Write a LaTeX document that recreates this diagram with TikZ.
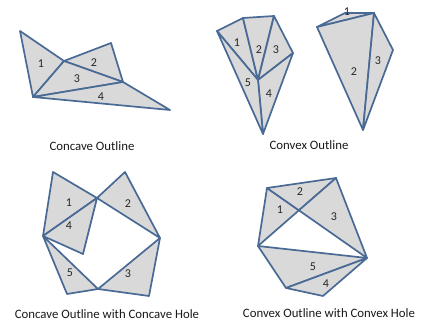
\documentclass[tikz,border=0pt]{standalone}
\usepackage{fontspec}
\setmainfont{Carlito}
\usetikzlibrary{calc}
\definecolor{triline}{HTML}{4A6A96}
\definecolor{trifill}{HTML}{D9D9D9}
\tikzset{
  tri/.style={
    fill=trifill,
    draw=triline,
    line width=1.7pt,
    line join=round
  },
  num/.style={
    font=\fontsize{12}{14}\selectfont,
    text=black!85,
    inner sep=0pt
  },
  caption/.style={
    font=\fontsize{12.8}{15}\selectfont,
    text=black!90,
    inner sep=0pt
  }
}
\begin{document}
\begin{tikzpicture}[x=1pt,y=-1pt]
\useasboundingbox (0,0) rectangle (421,323);

% concave outline
\coordinate (a1) at (20,31);
\coordinate (a2) at (64,61);
\coordinate (a3) at (111,43);
\coordinate (a4) at (123,82);
\coordinate (a5) at (33,97);
\coordinate (a6) at (170,110);
\draw[tri] (a1) -- (a2) -- (a5) -- cycle;
\draw[tri] (a2) -- (a3) -- (a4) -- cycle;
\draw[tri] (a2) -- (a4) -- (a5) -- cycle;
\draw[tri] (a5) -- (a4) -- (a6) -- cycle;
\node[num] (na1) at (41,64) {1};
\node[num] (na2) at (94,63) {2};
\node[num] (na3) at (77,79) {3};
\node[num] (na4) at (101,97) {4};
\node[caption] (capa) at (92,146) {Concave Outline};

% convex outline, fan
\coordinate (b1) at (217,31);
\coordinate (b2) at (243,18);
\coordinate (b3) at (274,16);
\coordinate (b4) at (293,53);
\coordinate (b5) at (258,80);
\coordinate (b6) at (263,134);
\draw[tri] (b1) -- (b2) -- (b5) -- cycle;
\draw[tri] (b2) -- (b3) -- (b5) -- cycle;
\draw[tri] (b3) -- (b4) -- (b5) -- cycle;
\draw[tri] (b4) -- (b6) -- (b5) -- cycle;
\draw[tri] (b1) -- (b5) -- (b6) -- cycle;
\node[num] (nb1) at (237,43) {1};
\node[num] (nb2) at (259,50) {2};
\node[num] (nb3) at (276,50) {3};
\node[num] (nb4) at (269,94) {4};
\node[num] (nb5) at (248,83) {5};

% convex outline, strip
\coordinate (c1) at (317,27);
\coordinate (c2) at (345,13);
\coordinate (c3) at (374,13);
\coordinate (c4) at (393,50);
\coordinate (c5) at (363,130);
\draw[tri] (c1) -- (c2) -- (c3) -- cycle;
\draw[tri] (c1) -- (c3) -- (c5) -- cycle;
\draw[tri] (c3) -- (c4) -- (c5) -- cycle;
\node[num] (nc1) at (347,12) {1};
\node[num] (nc2) at (354,72) {2};
\node[num] (nc3) at (378,61) {3};
\node[caption] (capb) at (309,145) {Convex Outline};

% concave outline with concave hole
\coordinate (d1) at (53,172);
\coordinate (d2) at (97,198);
\coordinate (d3) at (125,172);
\coordinate (d4) at (160,238);
\coordinate (d5) at (43,236);
\coordinate (d6) at (83,254);
\coordinate (d7) at (98,289);
\coordinate (d8) at (67,294);
\coordinate (d9) at (149,296);
\draw[tri] (d1) -- (d2) -- (d5) -- cycle;
\draw[tri] (d5) -- (d2) -- (d6) -- cycle;
\draw[tri] (d2) -- (d3) -- (d4) -- cycle;
\draw[tri] (d4) -- (d9) -- (d7) -- cycle;
\draw[tri] (d5) -- (d7) -- (d8) -- cycle;
\node[num] (nd1) at (69,203) {1};
\node[num] (nd2) at (128,204) {2};
\node[num] (nd3) at (128,274) {3};
\node[num] (nd4) at (69,226) {4};
\node[num] (nd5) at (70,273) {5};
\node[caption] (capd) at (107,314) {Concave Outline with Concave Hole};

% convex outline with convex hole
\coordinate (e1) at (267,188);
\coordinate (e2) at (336,178);
\coordinate (e3) at (367,258);
\coordinate (e4) at (323,296);
\coordinate (e5) at (286,288);
\coordinate (e6) at (258,246);
\coordinate (ex) at (intersection of e1--e3 and e2--e6);
\draw[tri] (e1) -- (ex) -- (e6) -- cycle;
\draw[tri] (e1) -- (e2) -- (ex) -- cycle;
\draw[tri] (e2) -- (e3) -- (ex) -- cycle;
\draw[tri] (e6) -- (e3) -- (e5) -- cycle;
\draw[tri] (e5) -- (e3) -- (e4) -- cycle;
\node[num] (ne1) at (280,210) {1};
\node[num] (ne2) at (300,192) {2};
\node[num] (ne3) at (334,217) {3};
\node[num] (ne4) at (326,284) {4};
\node[num] (ne5) at (313,267) {5};
\node[caption] (cape) at (329,313) {Convex Outline with Convex Hole};
\end{tikzpicture}
\end{document}
